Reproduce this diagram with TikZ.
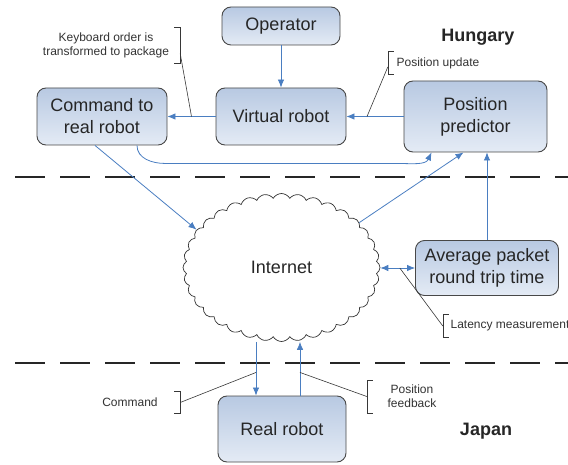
\documentclass[tikz,border=0pt]{standalone}
\usepackage{fontspec}
\setmainfont{Liberation Sans}
\usetikzlibrary{arrows.meta,shapes.symbols}

\definecolor{boxtop}{RGB}{184,201,226}
\definecolor{boxbot}{RGB}{228,235,245}
\definecolor{boxline}{RGB}{72,72,72}
\definecolor{linkblue}{RGB}{74,126,193}
\definecolor{leadgray}{RGB}{55,55,55}
\definecolor{notegray}{RGB}{50,50,50}

\tikzset{
    box/.style={draw=boxline, line width=0.9pt, rounded corners=9pt,
        top color=boxtop, bottom color=boxbot, align=center,
        text=black!85, inner sep=0pt, font=\fontsize{18}{22}\selectfont},
    link/.style={draw=linkblue, line width=0.8pt, -{Latex[length=8pt,width=6.5pt]}},
    note/.style={font=\fontsize{12}{14}\selectfont, text=notegray, align=center,
        inner xsep=0pt, inner ysep=5pt, minimum height=22pt},
    leader/.style={draw=leadgray, line width=0.6pt},
    divider/.style={draw=black!85, line width=1.7pt, dash pattern=on 30pt off 15pt},
    country/.style={font=\fontsize{18}{22}\selectfont\bfseries, text=black!85}
}

\begin{document}
\begin{tikzpicture}[x=1pt, y=1pt]

\useasboundingbox (0,0) rectangle (568,-465);

% site borders
\draw[divider] (15,-177) -- (568,-177);
\draw[divider] (15,-363) -- (568,-363);

\node[country] (hu) at (478,-37) {Hungary};
\node[country] (jp) at (486,-431) {Japan};

\node[box, minimum width=118pt, minimum height=38pt] (op) at (281,-26) {Operator};
\node[box, minimum width=130pt, minimum height=57pt] (vr) at (281,-116.5) {Virtual robot};
\node[box, minimum width=130pt, minimum height=57pt] (cmd) at (102,-116.5) {Command to\\real robot};
\node[box, minimum width=143pt, minimum height=71pt] (pred) at (475.5,-116.5) {Position\\predictor};
\node[box, minimum width=143pt, minimum height=55pt] (avg) at (487,-268) {Average packet\\round trip time};
\node[box, minimum width=128pt, minimum height=66pt] (rr) at (282,-429) {Real robot};

\node[draw=black!80, line width=0.7pt, cloud, cloud puffs=36, cloud puff arc=120,
      aspect=1.36, minimum width=197pt, minimum height=148pt,
      font=\fontsize{18}{22}\selectfont, text=black!85] (inet) at (281.5,-267.5) {Internet};

% annotations
\node[note, minimum width=148pt] (kbd) at (106,-45.5) {Keyboard order is\\transformed to package};
\node[note, minimum width=100pt] (upd) at (438,-63) {Position update};
\node[note, minimum width=134pt] (lat) at (510,-326) {Latency measurement};
\node[note, minimum width=100pt] (cmdn) at (130,-402.5) {Command};
\node[note, minimum width=90pt] (fbn) at (412,-396.5) {Position\\feedback};

\coordinate (down) at ([xshift=-26]rr.north);
\coordinate (up) at ([xshift=18]rr.north);

% links
\draw[link] (op) -- (vr);
\draw[link] (vr) -- coordinate (kbdpt) (cmd);
\draw[link] (pred) -- coordinate[pos=0.64] (updpt) (vr);
\draw[link] ([xshift=-7]cmd.south) -- (inet.156);
\draw[link] ([xshift=35]cmd.south) to[out=-90,in=180] ++(28,-18) -- ++(232,0)
    to[out=0,in=-115] ([xshift=-44]pred.south);
\draw[link] (inet.30) -- ([xshift=-12]pred.south);
\draw[link] (avg.north) -- (avg.north |- pred.south);
\draw[link, {Latex[length=8pt,width=6.5pt]}-{Latex[length=8pt,width=6.5pt]}]
    (inet.east |- avg.west) -- coordinate[pos=0.56] (latpt) (avg.west);
\draw[link] (down |- inet.south) -- coordinate[pos=0.57] (cmdpt) (down);
\draw[link] (up) -- coordinate[pos=0.43] (fbpt) (up |- inet.south);

% brackets and leaders
\draw[leader] ([xshift=-6]kbd.north east) -- (kbd.north east) -- (kbd.south east) -- ++(-6,0);
\draw[leader] ([yshift=-8]kbd.east) -- (kbdpt);
\draw[leader] ([xshift=6]upd.north west) -- (upd.north west) -- (upd.south west) -- ++(6,0);
\draw[leader] ([yshift=-4]upd.west) -- (updpt);
\draw[leader] ([xshift=6]lat.north west) -- (lat.north west) -- (lat.south west) -- ++(6,0);
\draw[leader] (lat.west) -- (latpt);
\draw[leader] ([xshift=-6]cmdn.north east) -- (cmdn.north east) -- (cmdn.south east) -- ++(-6,0);
\draw[leader] (cmdn.east) -- (cmdpt);
\draw[leader] ([xshift=6]fbn.north west) -- (fbn.north west) -- (fbn.south west) -- ++(6,0);
\draw[leader] (fbn.west) -- (fbpt);

\end{tikzpicture}
\end{document}
